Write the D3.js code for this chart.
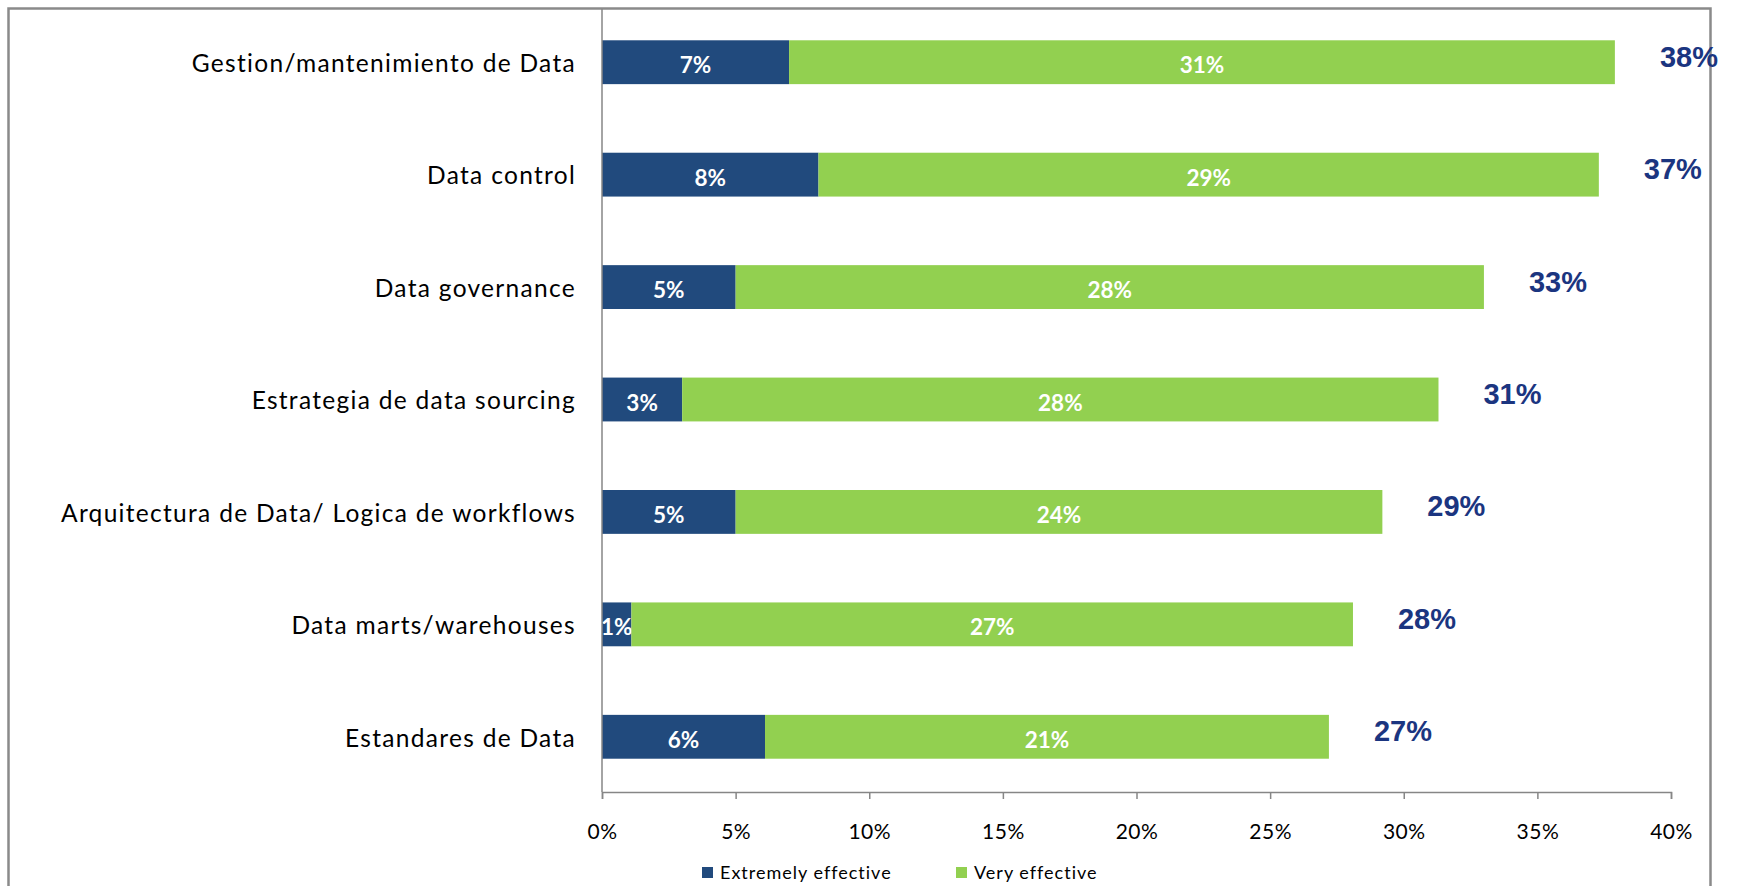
<!DOCTYPE html>
<html>
  <head>
    <meta charset="utf-8">
    <script src="https://cdn.jsdelivr.net/npm/d3@7"></script>
    <style>
      html, body {
        margin: 0;
        padding: 0;
        background: #ffffff;
      }
      svg {
        display: block;
        font-family: 'Lato', 'Open Sans', sans-serif;
      }
      .cat-label {
        font-size: 24.5px;
        letter-spacing: 1.3px;
        fill: #000000;
      }
      .seg-label {
        font-size: 22.5px;
        font-weight: bold;
        fill: #ffffff;
      }
      .total-label {
        font-family: 'Liberation Sans', Arial, sans-serif;
        font-size: 29px;
        font-weight: bold;
        fill: #1b3580;
      }
      .x-axis text {
        font-family: 'Lato', 'Open Sans', sans-serif;
        font-size: 21px;
        letter-spacing: 0.5px;
        fill: #000000;
      }
      .legend text {
        font-size: 18px;
        letter-spacing: 1px;
        fill: #000000;
      }
    </style>
  </head>
  <body>
    <svg width="1741" height="886"></svg>
    <script>
      const categories = [
        "Gestion/mantenimiento de Data",
        "Data control",
        "Data governance",
        "Estrategia de data sourcing",
        "Arquitectura de Data/ Logica de workflows",
        "Data marts/warehouses",
        "Estandares de Data"
      ];
      const extremelyEffective = [7.0, 8.1, 5.0, 3.0, 5.0, 1.1, 6.1];
      const veryEffective = [30.9, 29.2, 28.0, 28.3, 24.2, 27.0, 21.1];
      const seriesNames = ["Extremely effective", "Very effective"];
      const seriesColors = ["#214a7d", "#92d050"];
      const tickValues = [0, 5, 10, 15, 20, 25, 30, 35, 40];

      const svg = d3.select("svg");

      svg.append("rect")
        .attr("width", 1741)
        .attr("height", 886)
        .attr("fill", "#ffffff");

      // marco del grafico
      svg.append("rect")
        .attr("x", 8.5)
        .attr("y", 8.5)
        .attr("width", 1702)
        .attr("height", 1000)
        .attr("fill", "none")
        .attr("stroke", "#8a8a8a")
        .attr("stroke-width", 2.5);

      const x = d3.scaleLinear().domain([0, 40]).range([602, 1671]);
      const y = d3.scaleBand()
        .domain(categories)
        .range([6, 793])
        .paddingInner(0.61)
        .paddingOuter(0.305);

      const rows = categories.map((c, i) => ({
        category: c,
        extremely: extremelyEffective[i],
        very: veryEffective[i],
        total: extremelyEffective[i] + veryEffective[i]
      }));

      const stack = d3.stack().keys(["extremely", "very"]);
      const layers = stack(rows);

      const gLayer = svg.append("g")
        .selectAll("g")
        .data(layers)
        .join("g")
        .attr("fill", (d, i) => seriesColors[i]);

      gLayer.selectAll("rect")
        .data(d => d)
        .join("rect")
        .attr("x", d => x(d[0]))
        .attr("y", d => y(d.data.category))
        .attr("width", d => x(d[1]) - x(d[0]))
        .attr("height", y.bandwidth());

      gLayer.selectAll("text")
        .data(d => d)
        .join("text")
        .attr("class", "seg-label")
        .attr("text-anchor", "middle")
        .attr("x", d => (x(d[0]) + x(d[1])) / 2)
        .attr("y", d => y(d.data.category) + y.bandwidth() / 2 + 3)
        .attr("dy", "0.36em")
        .text(d => Math.round(d[1] - d[0]) + "%");

      // etiquetas de categorias
      svg.append("g")
        .selectAll("text")
        .data(rows)
        .join("text")
        .attr("class", "cat-label")
        .attr("text-anchor", "end")
        .attr("x", x(0) - 26)
        .attr("y", d => y(d.category) + y.bandwidth() / 2 + 1)
        .attr("dy", "0.36em")
        .text(d => d.category);

      // totales
      svg.append("g")
        .selectAll("text")
        .data(rows)
        .join("text")
        .attr("class", "total-label")
        .attr("x", d => x(d.total) + 45)
        .attr("y", d => y(d.category) + y.bandwidth() / 2 - 6)
        .attr("dy", "0.36em")
        .text(d => Math.round(d.total) + "%");

      // eje x
      const xAxis = svg.append("g")
        .attr("class", "x-axis")
        .attr("transform", "translate(0,792)")
        .call(d3.axisBottom(x)
          .tickValues(tickValues)
          .tickFormat(d => d + "%")
          .tickSize(7)
          .tickSizeOuter(7)
          .tickPadding(25));
      xAxis.select(".domain").attr("stroke", "#868686").attr("stroke-width", 1.5);
      xAxis.selectAll(".tick line").attr("stroke", "#868686").attr("stroke-width", 1.5);

      // eje y
      svg.append("line")
        .attr("x1", x(0))
        .attr("x2", x(0))
        .attr("y1", 9)
        .attr("y2", 792)
        .attr("stroke", "#868686")
        .attr("stroke-width", 1.5);

      // leyenda
      const legendX = [702, 956];
      const legend = svg.append("g")
        .attr("class", "legend")
        .selectAll("g")
        .data(seriesNames)
        .join("g")
        .attr("transform", (d, i) => `translate(${legendX[i]},867)`);

      legend.append("rect")
        .attr("width", 11)
        .attr("height", 11)
        .attr("fill", (d, i) => seriesColors[i]);

      legend.append("text")
        .attr("x", 18)
        .attr("y", 6)
        .attr("dy", "0.36em")
        .text(d => d);
    </script>
  </body>
</html>
